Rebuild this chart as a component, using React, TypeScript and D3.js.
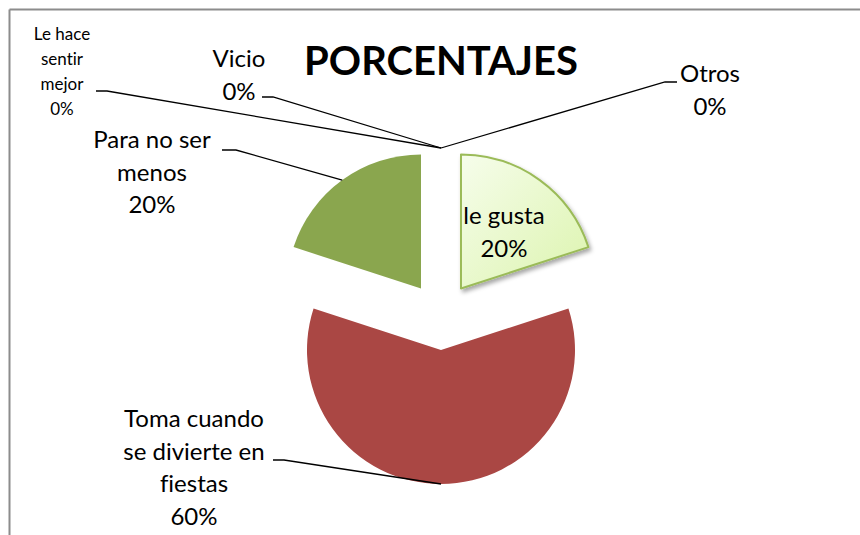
import React from 'react';
import * as d3 from 'd3';

// categories and their percentages
const categories = [
  'le gusta',
  'Toma cuando se divierte en fiestas',
  'Para no ser menos',
  'Le hace sentir mejor',
  'Vicio',
  'Otros',
];
const values = [20, 60, 20, 0, 0, 0];
const sliceColors = ['url(#gustaFill)', '#AA4744', '#8AA64E', '#4F81BD', '#4F81BD', '#4F81BD'];

// how each label is broken into lines
const labelLines = [
  ['le gusta'],
  ['Toma cuando', 'se divierte en', 'fiestas'],
  ['Para no ser', 'menos'],
  ['Le hace', 'sentir', 'mejor'],
  ['Vicio'],
  ['Otros'],
];

// label placement: text centre x, first baseline, line spacing, font size, leader line end (elbow)
const labelLayout = [
  { x: 504, y: 224, dy: 33, size: 24, inside: true },
  { x: 194, y: 427, dy: 32.5, size: 24, ex: 284, ey: 460, hx: 273 },
  { x: 152, y: 148, dy: 32.5, size: 24, ex: 236, ey: 150, hx: 222 },
  { x: 62, y: 40, dy: 25, size: 17, ex: 107, ey: 91, hx: 96 },
  { x: 239, y: 67, dy: 32.5, size: 24, ex: 273, ey: 97, hx: 262 },
  { x: 710, y: 82, dy: 32.5, size: 24, ex: 665, ey: 82, hx: 677 },
];

const W = 860;
const H = 535;
const cx = 441;
const cy = 316;
const radius = 134;
const explode = 34;

const App = () => {
  const pie = d3.pie<number>().sort(null).value((d) => d);
  const arcs = pie(values);
  const arcGen = d3.arc<d3.PieArcDatum<number>>().innerRadius(0).outerRadius(radius);

  const offset = (a: d3.PieArcDatum<number>, dist: number) => {
    const mid = (a.startAngle + a.endAngle) / 2;
    return [Math.sin(mid) * dist, -Math.cos(mid) * dist];
  };

  return (
    <svg
      width={W}
      height={H}
      style={{ position: 'absolute', left: 0, top: 0, background: '#fff', fontVariantLigatures: 'none' }}
      fontFamily="Lato, 'Open Sans', sans-serif"
    >
      <defs>
        <linearGradient id="gustaFill" x1="0" y1="0" x2="1" y2="1">
          <stop offset="0%" stopColor="#F6FDEB" />
          <stop offset="100%" stopColor="#DCF4AE" />
        </linearGradient>
        <filter id="shadow" x="-20%" y="-20%" width="140%" height="140%">
          <feDropShadow dx="2" dy="3" stdDeviation="2" floodColor="#000" floodOpacity="0.35" />
        </filter>
      </defs>

      {/* chart area frame */}
      <line x1={9.5} y1={9.5} x2={W} y2={9.5} stroke="#8c8c8c" strokeWidth={2} />
      <line x1={9.5} y1={9.5} x2={9.5} y2={H} stroke="#8c8c8c" strokeWidth={2} />

      <text x={cx} y={75} textAnchor="middle" fontWeight="bold" fontSize={40} fill="#000">
        PORCENTAJES
      </text>

      {arcs.map((a, i) => {
        if (a.value === 0) return null;
        const [ox, oy] = offset(a, explode);
        const first = i === 0;
        return (
          <path
            key={i}
            d={arcGen(a) || ''}
            transform={`translate(${cx + ox},${cy + oy})`}
            fill={sliceColors[i]}
            stroke={first ? '#9BBB59' : 'none'}
            strokeWidth={first ? 2 : 0}
            strokeLinejoin="round"
            filter={first ? 'url(#shadow)' : undefined}
          />
        );
      })}

      {arcs.map((a, i) => {
        const lay = labelLayout[i];
        const lines = [...labelLines[i], `${values[i]}%`];
        let leader = null;
        if (!lay.inside) {
          const [sx, sy] = offset(a, explode + radius);
          leader = (
            <polyline
              points={`${cx + sx},${cy + sy} ${lay.ex},${lay.ey} ${lay.hx},${lay.ey}`}
              fill="none"
              stroke="#000"
              strokeWidth={1.3}
            />
          );
        }
        return (
          <g key={'l' + i}>
            {leader}
            <text textAnchor="middle" fontSize={lay.size} fill="#000">
              {lines.map((t, j) => (
                <tspan key={j} x={lay.x} y={lay.y + j * lay.dy}>
                  {t}
                </tspan>
              ))}
            </text>
          </g>
        );
      })}
    </svg>
  );
};

export default App;
